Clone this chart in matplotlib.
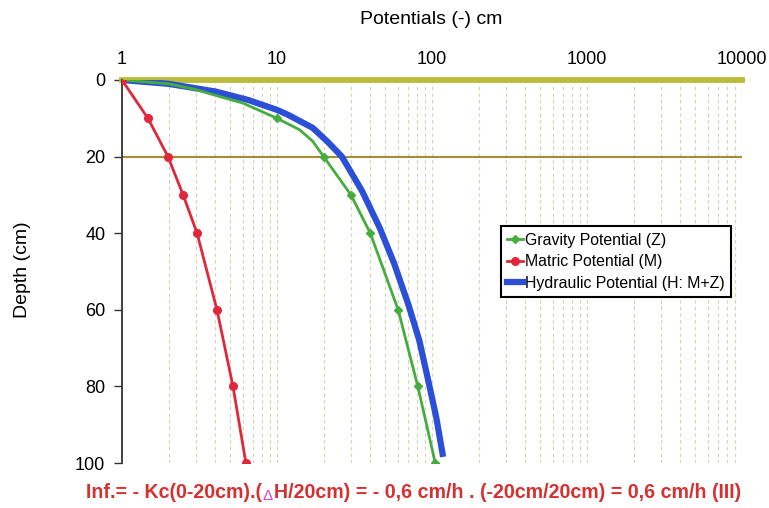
import numpy as np
import matplotlib.pyplot as plt
from matplotlib.ticker import FixedLocator, LogLocator, NullFormatter

depth_pts = [0, 10, 20, 30, 40, 60, 80, 100]
matric_pts = [1, 1.47, 1.98, 2.48, 3.05, 4.1, 5.2, 6.3]
gravity_pts = [1, 10, 20, 30, 40, 60.5, 81, 105]

# the drawn (smoothed) gravity and hydraulic curves
grav_curve_depth = [0, 1, 2.5, 4, 6, 10, 13, 16, 20, 30, 40, 60, 80, 100]
grav_curve = [1, 2, 3, 4, 6, 10, 14, 17, 20, 30, 40, 60.5, 81, 105]
hyd_curve_depth = [0, 1, 3, 5.2, 7.8, 9.1, 12.5, 16.2, 20, 29, 38.6, 48, 58.7, 68, 78.8, 88, 98.4]
hyd_curve = [1, 2, 4, 6.5, 10, 11.8, 17, 21.3, 26.2, 35.4, 46, 57.1, 70.5, 82.8, 95, 106.4, 118]

xticks = [1, 10, 100, 1000, 10000]
yticks = [0, 20, 40, 60, 80, 100]
ref_depths = [0, 20]

red = '#e0283a'
green = '#45ad3e'
blue = '#2c4fd8'
txt_red = '#d63030'

plt.rcParams['font.family'] = ['Liberation Sans', 'DejaVu Sans']

fig = plt.figure(figsize=(7.69, 5.08), dpi=100)
ax = fig.add_axes([122/769, 1-463/508, 620/769, 383/508])

ax.set_xscale('log')
ax.set_xlim(1, 10000)
ax.set_ylim(100, 0)

# vertical dashed grid
ax.xaxis.set_minor_locator(LogLocator(base=10, subs=np.arange(2, 10)))
ax.xaxis.set_minor_formatter(NullFormatter())
ax.grid(True, which='both', axis='x', color='#d6d2ac', linestyle=(0, (3, 3)), linewidth=0.8)

# reference lines at surface and 20 cm
ax.plot([1, 10000], [ref_depths[0]] * 2, color='#b9bc3a', lw=4.2, clip_on=False, zorder=2)
ax.plot([1, 10000], [ref_depths[1]] * 2, color='#a68c32', lw=1.5, zorder=2)

ax.plot(hyd_curve, hyd_curve_depth, color=blue, lw=4.5, solid_capstyle='butt', zorder=3)
ax.plot(grav_curve, grav_curve_depth, color=green, lw=2, zorder=4)
ax.plot(gravity_pts, depth_pts, 'D', color=green, ms=4.5, zorder=5)
ax.plot(matric_pts, depth_pts, 'o-', color=red, lw=2, ms=5.5, zorder=5)

# legend proxies
hg, = ax.plot([], [], 'D-', color=green, lw=2, ms=4.5)
hm, = ax.plot([], [], 'o-', color=red, lw=2, ms=5.5)
hh, = ax.plot([], [], '-', color=blue, lw=4.5)
leg = ax.legend([hg, hm, hh],
                ['Gravity Potential (Z)', 'Matric Potential (M)', 'Hydraulic Potential (H: M+Z)'],
                loc='upper right', bbox_to_anchor=(0.983, 0.618), fontsize=11.4,
                frameon=True, fancybox=False, edgecolor='black', framealpha=1,
                handlelength=1.0, handletextpad=0.15, borderpad=0.4, labelspacing=0.42,
                borderaxespad=0, numpoints=1)
leg.get_frame().set_linewidth(1.5)

ax.xaxis.set_major_locator(FixedLocator(xticks))
ax.set_xticklabels([str(v) for v in xticks])
ax.xaxis.tick_top()
ax.tick_params(axis='x', which='both', length=0, labelsize=13, pad=9)
ax.set_yticks(yticks)
ax.tick_params(axis='y', length=6, width=1, labelsize=13, pad=6, color='#333333')

for s in ['top', 'right', 'bottom']:
    ax.spines[s].set_visible(False)
ax.spines['left'].set_color('#333333')
ax.spines['left'].set_linewidth(1.3)

fig.text(431/769, 1-20/508, 'Potentials (-) cm', ha='center', va='center', fontsize=14)
fig.text(23/769, 1-270/508, 'Depth (cm)', ha='center', va='center', rotation=90, fontsize=14)

# bottom formula, with the delta in magenta
t1 = fig.text(86/769, 1-493/508, 'Inf.= - Kc(0-20cm).(', color=txt_red,
              fontsize=14.1, fontweight='bold', ha='left', va='center')
t2 = ax.annotate('\u0394', xy=(1, 0), xycoords=t1, xytext=(0.5, 0), textcoords='offset points',
                 color='#e040d0', fontsize=11, fontweight='normal', ha='left', va='bottom')
ax.annotate('H/20cm) = - 0,6 cm/h . (-20cm/20cm) = 0,6 cm/h (III)', xy=(1, 0), xycoords=t2,
            xytext=(0.5, 0), textcoords='offset points', color=txt_red,
            fontsize=14.1, fontweight='bold', ha='left', va='bottom', annotation_clip=False)
t2.set_annotation_clip(False)

fig.savefig('out.png', dpi=100)
